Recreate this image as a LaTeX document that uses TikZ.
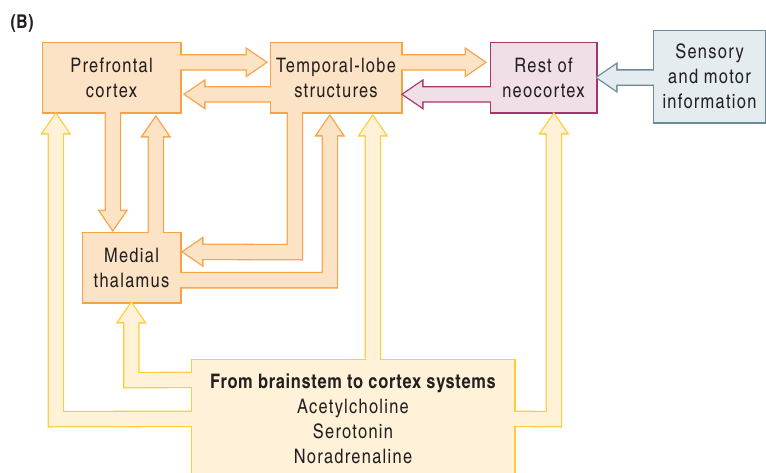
\documentclass[tikz,border=0pt]{standalone}
\usepackage{fontspec}
\setmainfont[LetterSpace=6.5,BoldFeatures={LetterSpace=3.5}]{TeX Gyre Heros Cn}
\usetikzlibrary{calc}

\definecolor{orE}{HTML}{F6A347}
\definecolor{orF}{HTML}{FDE3C6}
\definecolor{yeE}{HTML}{FFCC3A}
\definecolor{yeF}{HTML}{FFF2D9}
\definecolor{puE}{HTML}{A53470}
\definecolor{puF}{HTML}{F1DFE7}
\definecolor{grE}{HTML}{6B8A97}
\definecolor{grF}{HTML}{E4ECF0}
\definecolor{ink}{HTML}{231F20}

\pgfdeclarelayer{edge}
\pgfdeclarelayer{body}
\pgfsetlayers{edge,body,main}

% A filled shape whose outline is drawn wide underneath its fill,
% so that touching shapes of one colour merge into a single outline.
\newcommand\blockshape[3]{%
  \begin{pgfonlayer}{edge}\draw[line width=2.6pt,draw=#1,line join=miter] #3;\end{pgfonlayer}%
  \begin{pgfonlayer}{body}\fill[#2] #3;\end{pgfonlayer}}

% Straight block arrow from #3 (middle of its base) to the tip #4.
\newcommand\blockarrow[4]{%
  \path (#3) coordinate (ba-s) (#4) coordinate (ba-t);
  \path ($(ba-t)!19pt!(ba-s)$) coordinate (ba-b);
  \blockshape{#1}{#2}{($(ba-s)!7pt!90:(ba-t)$) -- ($(ba-b)!7pt!-90:(ba-s)$)
    -- ($(ba-b)!13pt!-90:(ba-s)$) -- (ba-t) -- ($(ba-b)!13pt!90:(ba-s)$)
    -- ($(ba-b)!7pt!90:(ba-s)$) -- ($(ba-s)!7pt!-90:(ba-t)$) -- cycle}}

\tikzset{
  box/.style={inner sep=0pt, align=center, text=ink,
    font=\fontsize{20}{25}\selectfont}
}

\begin{document}
\begin{tikzpicture}[x=1pt,y=-1pt]
\clip (0,0) rectangle (766,472);

\node[text=ink, font=\bfseries\fontsize{19}{22}\selectfont, inner sep=0pt] (lbl) at (22,23) {(B)};

\node[box, minimum width=137pt, minimum height=69pt] (pf) at (111.5,77.5) {Prefrontal\\cortex};
\node[box, minimum width=130pt, minimum height=69pt] (tl) at (336,77.5) {Temporal-lobe\\structures};
\node[box, minimum width=105pt, minimum height=69pt] (rest) at (543.5,77.5) {Rest of\\neocortex};
\node[box, minimum width=111pt, minimum height=91pt] (sens) at (709.5,76.5) {Sensory\\and motor\\information};
\node[box, minimum width=97pt, minimum height=69pt] (med) at (131.5,267.5) {Medial\\thalamus};
\node[box, minimum width=322pt, minimum height=117pt] (bs) at (353,418.5)
  {{\bfseries From brainstem to cortex systems}\\Acetylcholine\\Serotonin\\Noradrenaline};

% boxes
\blockshape{orE}{orF}{(pf.south west) rectangle (pf.north east)}
\blockshape{orE}{orF}{(tl.south west) rectangle (tl.north east)}
\blockshape{orE}{orF}{(med.south west) rectangle (med.north east)}
\blockshape{puE}{puF}{(rest.south west) rectangle (rest.north east)}
\blockshape{grE}{grF}{(sens.south west) rectangle (sens.north east)}
\blockshape{yeE}{yeF}{(bs.south west) rectangle (bs.north east)}

% straight connectors
\blockarrow{orE}{orF}{$(pf.north east)+(0,19.5)$}{$(tl.north west)+(-5,19.5)$}
\blockarrow{orE}{orF}{$(tl.north west)+(0,51.5)$}{$(pf.north east)+(5,51.5)$}
\blockarrow{orE}{orF}{$(pf.south west)+(70,0)$}{$(med.north west)+(30,-3)$}
\blockarrow{orE}{orF}{$(med.north west)+(73,0)$}{$(pf.south west)+(113,5)$}
\blockarrow{orE}{orF}{$(tl.north east)+(0,19.5)$}{$(rest.north west)+(-6,19.5)$}
\blockarrow{puE}{puF}{$(rest.north west)+(0,51.5)$}{$(tl.north east)+(2,51.5)$}
\blockarrow{grE}{grF}{sens.west |- rest.east}{$(rest.east)+(1,0)$}
\blockarrow{yeE}{yeF}{$(bs.north west)+(181,0)$}{$(tl.south west)+(102,4)$}

% temporal-lobe structures -> medial thalamus
\blockshape{orE}{orF}{($(tl.south west)+(17,0)$) -- ($(tl.south west)+(17,133)$)
  -- ($(med.north east)+(22,12)$) -- ($(med.north east)+(22,6)$)
  -- ($(med.north east)+(3,19)$) -- ($(med.north east)+(22,32)$)
  -- ($(med.north east)+(22,26)$) -- ($(tl.south west)+(31,147)$)
  -- ($(tl.south west)+(31,0)$) -- cycle}

% medial thalamus -> temporal-lobe structures
\blockshape{orE}{orF}{($(med.south east)+(0,-29)$) -- ($(tl.south west)+(52,161)$)
  -- ($(tl.south west)+(52,23)$) -- ($(tl.south west)+(46,23)$)
  -- ($(tl.south west)+(59,4)$) -- ($(tl.south west)+(72,23)$)
  -- ($(tl.south west)+(66,23)$) -- ($(tl.south west)+(66,175)$)
  -- ($(med.south east)+(0,-15)$) -- cycle}

% brainstem systems -> prefrontal cortex
\blockshape{yeE}{yeF}{($(bs.north west)+(0,52)$) -- ($(pf.south west)+(20,300)$)
  -- ($(pf.south west)+(20,21)$) -- ($(pf.south west)+(26,21)$)
  -- ($(pf.south west)+(13,2)$) -- ($(pf.south west)+(0,21)$)
  -- ($(pf.south west)+(6,21)$) -- ($(pf.south west)+(6,314)$)
  -- ($(bs.north west)+(0,66)$) -- cycle}

% brainstem systems -> medial thalamus
\blockshape{yeE}{yeF}{($(bs.north west)+(0,13)$) -- ($(med.south west)+(55.5,71)$)
  -- ($(med.south west)+(55.5,20)$) -- ($(med.south west)+(61.5,20)$)
  -- ($(med.south west)+(48.5,1)$) -- ($(med.south west)+(35.5,20)$)
  -- ($(med.south west)+(41.5,20)$) -- ($(med.south west)+(41.5,85)$)
  -- ($(bs.north west)+(0,27)$) -- cycle}

% brainstem systems -> rest of neocortex
\blockshape{yeE}{yeF}{($(bs.north east)+(0,52)$) -- ($(rest.south west)+(56,300)$)
  -- ($(rest.south west)+(56,21)$) -- ($(rest.south west)+(50,21)$)
  -- ($(rest.south west)+(63,2)$) -- ($(rest.south west)+(76,21)$)
  -- ($(rest.south west)+(70,21)$) -- ($(rest.south west)+(70,314)$)
  -- ($(bs.north east)+(0,66)$) -- cycle}
\end{tikzpicture}
\end{document}
